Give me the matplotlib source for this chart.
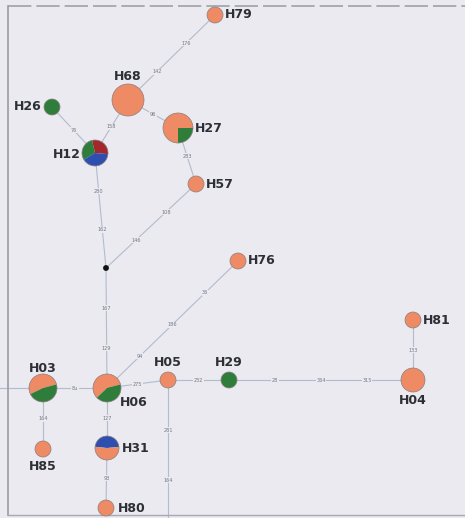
import matplotlib
matplotlib.use("Agg")
import matplotlib.pyplot as plt
from matplotlib.patches import Wedge, Circle

# haplotype colours
ORANGE = "#ee8a64"
GREEN = "#2e7d3a"
BLUE = "#2f4fb0"
RED = "#a3282e"

# node name, x, y, radius
names = ["H79", "H68", "H27", "H26", "H12", "H57", "H76", "H81",
         "H03", "H06", "H05", "H29", "H04", "H85", "H31", "H80"]
xs = [215, 128, 178, 52, 95, 196, 238, 413, 43, 107, 168, 229, 413, 43, 107, 106]
ys = [15, 100, 128, 107, 153, 184, 261, 320, 388, 388, 380, 380, 380, 449, 448, 508]
radii = [8, 16, 15, 8, 13, 8, 8, 8, 14, 14, 8, 8, 12, 8, 12, 8]

# pie slices per node: list of (fraction, colour), start angle
pies = {
    "H27": ([(0.75, ORANGE), (0.25, GREEN)], 0),
    "H26": ([(1.0, GREEN)], 0),
    "H12": ([(0.30, RED), (0.30, GREEN), (0.40, BLUE)], -5),
    "H03": ([(0.53, ORANGE), (0.47, GREEN)], 15),
    "H06": ([(0.58, ORANGE), (0.42, GREEN)], 15),
    "H29": ([(1.0, GREEN)], 0),
    "H31": ([(0.47, BLUE), (0.53, ORANGE)], 5),
}

# label position per node (dx, dy, ha)
label_pos = {
    "H79": (10, 0, "left"), "H68": (0, -24, "center"), "H27": (17, 0, "left"),
    "H26": (-10, 0, "right"), "H12": (-14, 2, "right"), "H57": (10, 1, "left"),
    "H76": (10, 0, "left"), "H81": (10, 0, "left"), "H03": (0, -20, "center"),
    "H06": (13, 14, "left"), "H05": (0, -18, "center"), "H29": (0, -18, "center"),
    "H04": (0, 20, "center"), "H85": (0, 17, "center"), "H31": (15, 1, "left"),
    "H80": (12, 0, "left"),
}

# median vector and off-canvas line ends
extra_x = {"mv": 106, "_s": 168, "_w": 0}
extra_y = {"mv": 268, "_s": 530, "_w": 388}

# edges with mutation position labels
edges = [
    ("H79", "H68", ["176", "142"]),
    ("H68", "H27", ["96"]),
    ("H68", "H12", ["158"]),
    ("H26", "H12", ["76"]),
    ("H27", "H57", ["283"]),
    ("H57", "mv", ["108", "146"]),
    ("H12", "mv", ["280", "162"]),
    ("mv", "H06", ["167", "129"]),
    ("H06", "H76", ["94", "186", "36"]),
    ("H03", "H06", ["8u"]),
    ("H06", "H05", ["275"]),
    ("H05", "H29", ["232"]),
    ("H29", "H04", ["28", "364", "315"]),
    ("H04", "H81", ["133"]),
    ("H03", "H85", ["164"]),
    ("H06", "H31", ["127"]),
    ("H31", "H80", ["93"]),
    ("H05", "_s", ["281", "164"]),
    ("_w", "H03", []),
]

pos = {n: (x, y) for n, x, y in zip(names, xs, ys)}
for k in extra_x:
    pos[k] = (extra_x[k], extra_y[k])
rad = dict(zip(names, radii))

BG = "#eaeaf0"
fig = plt.figure(figsize=(4.65, 5.18), dpi=100)
fig.patch.set_facecolor(BG)
ax = fig.add_axes([0, 0, 1, 1])
ax.set_facecolor(BG)
ax.set_xlim(0, 465)
ax.set_ylim(518, 0)
ax.axis("off")

# panel frame
ax.plot([8, 8], [6, 515], color="#9a9aa4", lw=1.2)
ax.plot([8, 465], [6, 6], color="#a0a0aa", lw=1.2, ls=(0, (14, 3)))
ax.plot([8, 465], [515, 515], color="#a8a8b2", lw=1.0)

for a, b, labs in edges:
    (x0, y0), (x1, y1) = pos[a], pos[b]
    ax.plot([x0, x1], [y0, y1], color="#b2bccd", lw=0.8, zorder=1)
    n = len(labs)
    for i, t in enumerate(labs):
        f = (i + 1) / (n + 1)
        ax.text(x0 + f * (x1 - x0), y0 + f * (y1 - y0), t, fontsize=3.6,
                color="#777784", ha="center", va="center", zorder=2,
                bbox=dict(boxstyle="square,pad=0.1", fc=BG, ec="none"))

# median vector
ax.add_patch(Circle(pos["mv"], 2.2, color="#111111", zorder=3))

for n in names:
    x, y = pos[n]
    r = rad[n]
    slices, start = pies.get(n, ([(1.0, ORANGE)], 0))
    ang = start
    for frac, col in slices:
        # y axis is inverted, so wedges are drawn with negated angles
        ax.add_patch(Wedge((x, y), r, -(ang + frac * 360), -ang,
                           facecolor=col, edgecolor="none", zorder=3))
        ang += frac * 360
    ax.add_patch(Circle((x, y), r, fill=False, ec="#8a7f80", lw=0.5, zorder=4))
    dx, dy, ha = label_pos[n]
    ax.text(x + dx, y + dy, n, fontsize=9, fontweight="bold", color="#2e2e36",
            ha=ha, va="center", zorder=5)

fig.savefig("out.png", dpi=100, facecolor=fig.get_facecolor())
